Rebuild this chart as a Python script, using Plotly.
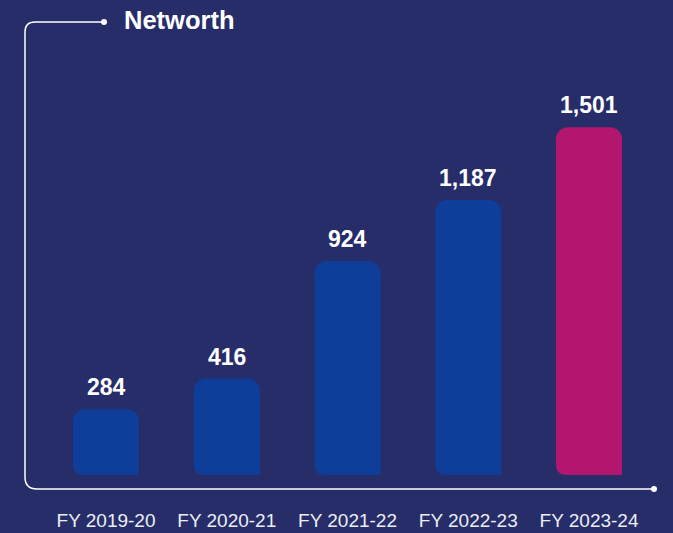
import plotly.graph_objects as go

categories = ["FY 2019-20", "FY 2020-21", "FY 2021-22", "FY 2022-23", "FY 2023-24"]
values = [284, 416, 924, 1187, 1501]
value_labels = ["284", "416", "924", "1,187", "1,501"]
title_text = "Networth"

BG = "#272d69"
BLUE = "#0e3e99"
MAGENTA = "#b3166e"
FONT = "Liberation Sans, Arial, Helvetica, sans-serif"

colors = [BLUE] * (len(values) - 1) + [MAGENTA]
xs = list(range(len(categories)))
bar_w = 0.547

fig = go.Figure()
fig.add_trace(go.Bar(
    x=xs, y=values, width=bar_w,
    marker=dict(color=colors, line=dict(width=0), cornerradius=12),
    hoverinfo="skip",
))

annotations = []
for xi, v, lab in zip(xs, values, value_labels):
    annotations.append(dict(
        x=xi, y=v, xref="x", yref="y", text="<b>%s</b>" % lab, showarrow=False,
        yanchor="bottom", xanchor="center", yshift=7,
        font=dict(family=FONT, size=23, color="white"),
    ))
annotations.append(dict(
    x=(122 - 25) / 629, y=(489 - 20) / 467, xref="paper", yref="paper",
    text="<b>%s</b>" % title_text, showarrow=False, xanchor="left", yanchor="middle",
    font=dict(family=FONT, size=25.5, color="white"),
))

shapes = []
# bottom-left rounded corner masks
r = 11
for xi in xs:
    shapes.append(dict(
        type="path", xref="x", yref="y", xsizemode="pixel", ysizemode="pixel",
        xanchor=xi - bar_w / 2, yanchor=0,
        path="M -1,-1 L %d,-1 L %d,0 Q 0,0 0,%d L -1,%d Z" % (r, r, r, r),
        fillcolor=BG, line=dict(width=0), layer="above",
    ))
# frame line
shapes.append(dict(
    type="path", xref="paper", yref="paper", xsizemode="pixel", ysizemode="pixel",
    xanchor=0, yanchor=0,
    path="M 79,467 L 10,467 Q 0,467 0,457 L 0,12 Q 0,0 12,0 L 629,0",
    line=dict(color="white", width=1.5), layer="above",
))
for (cx, cy) in [(79, 467), (629, 0)]:
    shapes.append(dict(
        type="circle", xref="paper", yref="paper", xsizemode="pixel", ysizemode="pixel",
        xanchor=0, yanchor=0, x0=cx - 3, x1=cx + 3, y0=cy - 3, y1=cy + 3,
        fillcolor="white", line=dict(width=0), layer="above",
    ))

s = 0.2317
fig.update_layout(
    width=673, height=533,
    margin=dict(l=25, r=19, t=22, b=44, autoexpand=False),
    paper_bgcolor=BG, plot_bgcolor=BG,
    showlegend=False,
    xaxis=dict(range=[-81 / 120.75, 548 / 120.75], tickmode="array", tickvals=xs,
               ticktext=categories, showgrid=False, zeroline=False, showline=False,
               ticks="", ticklabelstandoff=18, automargin=False,
               tickfont=dict(family=FONT, size=19, color="#eceef5")),
    yaxis=dict(range=[-14 / s, 453 / s], visible=False, showgrid=False, zeroline=False,
               automargin=False),
    annotations=annotations,
    shapes=shapes,
)

fig.write_html("out.html", config={"displayModeBar": False},
               post_script="document.body.style.margin='0';document.body.style.background='%s';" % BG)
